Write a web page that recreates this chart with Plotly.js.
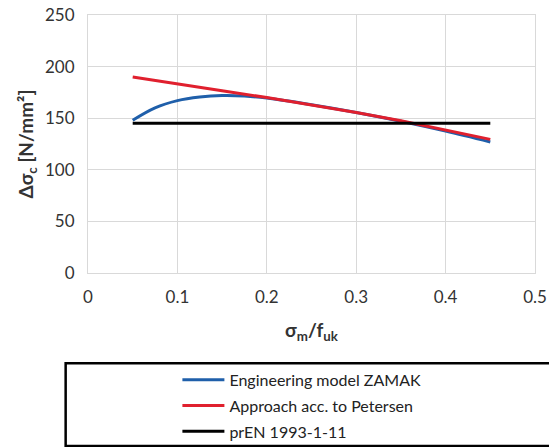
<!DOCTYPE html>
<html><head><meta charset="utf-8">
<script src="https://cdn.plot.ly/plotly-3.0.1.min.js"></script>
<style>html,body{margin:0;padding:0;background:#fff}#chart{width:549px;height:447px}</style>
</head><body><div id="chart"></div>
<script>
const blueX = [0.05, 0.075, 0.1, 0.125, 0.15, 0.175, 0.2, 0.25, 0.3, 0.35, 0.4, 0.45];
const blueY = [148, 160, 167, 170.5, 172, 171.5, 169.5, 163, 155.5, 147, 137.5, 127];
const redX = [0.05, 0.1, 0.15, 0.2, 0.25, 0.3, 0.35, 0.4, 0.45];
const redY = [190, 183, 176.5, 170, 163, 155.5, 147.5, 138.5, 129.5];
const blackX = [0.05, 0.45];
const blackY = [145, 145];
const names = ["Engineering model ZAMAK", "Approach acc. to Petersen", "prEN 1993-1-11"];

const font = "Lato, 'Open Sans', sans-serif";
const traces = [
  {x: blueX, y: blueY, name: names[0], mode: "lines", line: {color: "#1f5faa", width: 3, shape: "spline"}, legendgroup: "a"},
  {x: redX, y: redY, name: names[1], mode: "lines", line: {color: "#e0202e", width: 3}, legendgroup: "b"},
  {x: blackX, y: blackY, name: names[2], mode: "lines", line: {color: "#000", width: 3}, legendgroup: "c"}
];
const layout = {
  width: 549, height: 447,
  margin: {l: 87.5, r: 14, t: 15, b: 174.3, autoexpand: false},
  paper_bgcolor: "#fff", plot_bgcolor: "#fff",
  font: {family: font, size: 16, color: "#333"},
  showlegend: true,
  legend: {x: 0.2, y: -0.348, xanchor: "left", yanchor: "top", bgcolor: "rgba(0,0,0,0)", borderwidth: 0,
           tracegroupgap: 2, font: {size: 16, family: font, color: "#222"}, itemwidth: 42},
  xaxis: {range: [0, 0.5], tickvals: [0, 0.1, 0.2, 0.3, 0.4, 0.5], ticktext: ["0", "0.1", "0.2", "0.3", "0.4", "0.5"],
          showgrid: true, gridcolor: "#d9d9d9", gridwidth: 1.2, zeroline: false, showline: true, linecolor: "#d9d9d9", mirror: true,
          ticks: "", ticklabelstandoff: 9, tickfont: {size: 17},
          title: {text: "<b>σ<sub>m</sub>/f<sub>uk</sub></b>", font: {size: 19}, standoff: 17}},
  yaxis: {range: [0, 250], dtick: 50, showgrid: true, gridcolor: "#d9d9d9", gridwidth: 1.2, zeroline: false,
          showline: true, linecolor: "#d9d9d9", mirror: true, ticks: "", ticklabelstandoff: 9, tickfont: {size: 17},
          automargin: true,
          title: {text: "<b>Δσ<sub>c</sub> [N/mm²]</b>", font: {size: 19}, standoff: 6}},
  shapes: [{type: "rect", xref: "paper", yref: "paper", x0: -0.05, x1: 1.2, y0: -0.671, y1: -0.350,
            line: {color: "#000", width: 2.5}}]
};
Plotly.newPlot("chart", traces, layout, {displayModeBar: false, staticPlot: true});
</script></body></html>
